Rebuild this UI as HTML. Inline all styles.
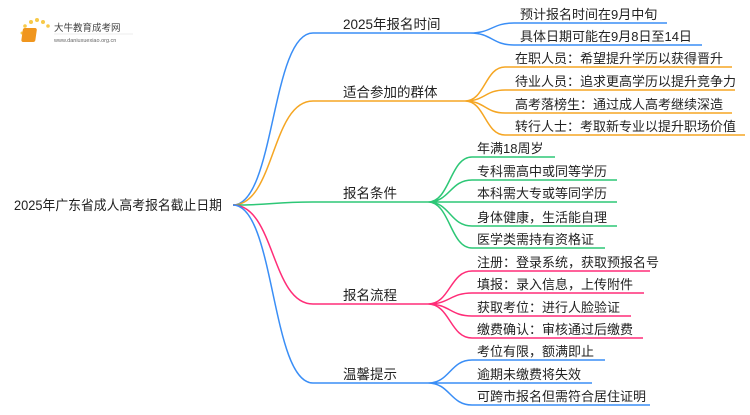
<!DOCTYPE html>
<html><head><meta charset="utf-8"><style>
body{margin:0;background:#fff;width:750px;height:410px;overflow:hidden}
text{font-family:"Liberation Sans","Noto Sans CJK SC",sans-serif;fill:#222}
</style></head><body>
<svg width="750" height="410" xmlns="http://www.w3.org/2000/svg">
<g>
<circle cx="22" cy="33" r="1.5" fill="#f7c948"/><circle cx="25" cy="26" r="1.8" fill="#f7c948"/><circle cx="31" cy="22" r="2" fill="#f7c948"/><circle cx="37" cy="20" r="2" fill="#f7c948"/><circle cx="43" cy="22" r="2" fill="#f7c948"/><circle cx="48" cy="26" r="1.8" fill="#f7c948"/>
<rect x="27" y="28" width="14" height="14" rx="2" fill="#f0961e" transform="skewX(-8)"/>
<text x="54" y="31" font-size="9.5" style="fill:#444">大牛教育成考网</text>
<line x1="54" y1="34" x2="133" y2="34" stroke="#ddd" stroke-width="0.6"/>
<text x="54" y="42" font-size="5.5" style="fill:#666">www.daniuxuexiao.org.cn</text>
</g>
<text x="14" y="210" font-size="13.5" textLength="208" lengthAdjust="spacingAndGlyphs">2025年广东省成人高考报名截止日期</text>
<g fill="none" stroke-width="1.5">
<path d="M233,205 C275,205 271,33 313,33 L470,33" stroke="#3a8ef6"/>
<path d="M470,33 C492,33 492,23 514,23 L667,23 M470,33 C492,33 492,45 514,45 L702,45" stroke="#3a8ef6"/>
<path d="M233,205 C275,205 271,101 313,101 L465,101" stroke="#f5a623"/>
<path d="M465,101 C485,101 485,67 505,67 L732,67 M465,101 C485,101 485,90 505,90 L735,90 M465,101 C485,101 485,113 505,113 L732,113 M465,101 C485,101 485,135 505,135 L745,135" stroke="#f5a623"/>
<path d="M233,205 C275,205 271,202 313,202 L428,202" stroke="#2dc776"/>
<path d="M428,202 C450,202 450,157 472,157 L555,157 M428,202 C450,202 450,180 472,180 L617,180 M428,202 C450,202 450,202 472,202 L617,202 M428,202 C450,202 450,226 472,226 L617,226 M428,202 C450,202 450,248 472,248 L605,248" stroke="#2dc776"/>
<path d="M233,205 C275,205 271,304 313,304 L428,304" stroke="#ff2d78"/>
<path d="M428,304 C450,304 450,271 472,271 L650,271 M428,304 C450,304 450,293 472,293 L644,293 M428,304 C450,304 450,316 472,316 L631,316 M428,304 C450,304 450,338 472,338 L643,338" stroke="#ff2d78"/>
<path d="M233,205 C275,205 271,383 313,383 L428,383" stroke="#3a8ef6"/>
<path d="M428,383 C450,383 450,360 472,360 L605,360 M428,383 C450,383 450,383 472,383 L592,383 M428,383 C450,383 450,405 472,405 L650,405" stroke="#3a8ef6"/>
</g>
<g font-size="13.5">
<text x="343" y="29">2025年报名时间</text>
<text x="343" y="97">适合参加的群体</text>
<text x="343" y="198">报名条件</text>
<text x="343" y="300">报名流程</text>
<text x="343" y="379">温馨提示</text>
</g>
<g font-size="13">
<text x="520" y="19">预计报名时间在9月中旬</text>
<text x="520" y="41">具体日期可能在9月8日至14日</text>
<text x="515" y="63">在职人员：希望提升学历以获得晋升</text>
<text x="515" y="86">待业人员：追求更高学历以提升竞争力</text>
<text x="515" y="109">高考落榜生：通过成人高考继续深造</text>
<text x="515" y="131">转行人士：考取新专业以提升职场价值</text>
<text x="477" y="153">年满18周岁</text>
<text x="477" y="176">专科需高中或同等学历</text>
<text x="477" y="198">本科需大专或等同学历</text>
<text x="477" y="222">身体健康，生活能自理</text>
<text x="477" y="244">医学类需持有资格证</text>
<text x="477" y="267">注册：登录系统，获取预报名号</text>
<text x="477" y="289">填报：录入信息，上传附件</text>
<text x="477" y="312">获取考位：进行人脸验证</text>
<text x="477" y="334">缴费确认：审核通过后缴费</text>
<text x="477" y="356">考位有限，额满即止</text>
<text x="477" y="379">逾期未缴费将失效</text>
<text x="477" y="401">可跨市报名但需符合居住证明</text>
</g>
</svg>
</body></html>
